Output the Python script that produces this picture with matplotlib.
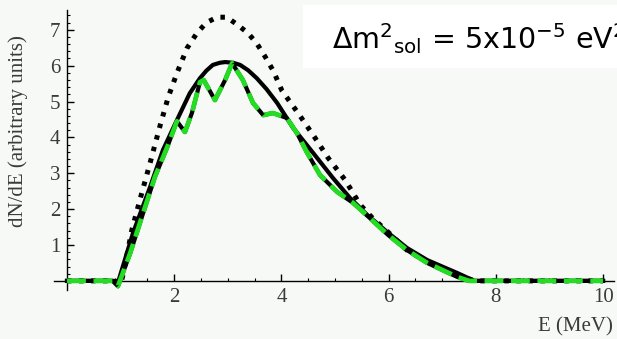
import numpy as np
import matplotlib.pyplot as plt
from matplotlib.patches import Rectangle
from matplotlib.ticker import FixedLocator

# Spectrum (E in MeV, dN/dE in arbitrary units)
E_noosc = [0, 0.9, 1.0, 1.05, 1.21, 1.36, 1.55, 1.74, 1.89, 2.05, 2.24, 2.42, 2.6, 2.8, 2.98,
           3.19, 3.38, 3.54, 3.7, 3.85, 4.01, 4.31, 4.63, 4.87, 5.19, 5.47, 5.7, 5.99, 6.34,
           6.72, 7.15, 7.6, 10]
y_noosc = [0, 0, -0.1, 0.2, 1.42, 2.26, 3.29, 4.35, 5.13, 5.79, 6.49, 6.9, 7.2, 7.35, 7.35,
           7.13, 6.9, 6.62, 6.24, 5.85, 5.3, 4.68, 3.98, 3.43, 2.81, 2.12, 1.75, 1.36, 0.86,
           0.53, 0.25, 0, 0]

E_avg = [0, 0.9, 0.95, 1.23, 1.55, 1.79, 2.05, 2.29, 2.48, 2.6, 2.72, 2.85, 2.95, 3.1,
         3.23, 3.38, 3.54, 3.72, 3.92, 4.22, 4.59, 4.96, 5.28, 5.6, 5.99, 6.34, 6.72, 7.28,
         7.6, 10]
y_avg = [0, 0, -0.05, 1.33, 2.62, 3.65, 4.48, 5.23, 5.65, 5.86, 6.02, 6.08, 6.1, 6.08,
         6.02, 5.87, 5.65, 5.35, 4.96, 4.26, 3.57, 2.87, 2.31, 1.84, 1.34, 0.92, 0.58, 0.22,
         0, 0]

E_osc = [0, 0.85, 0.95, 1.18, 1.42, 1.64, 1.87, 2.05, 2.2, 2.33, 2.48, 2.55, 2.76, 2.95,
         3.08, 3.28, 3.47, 3.66, 3.84, 4.1, 4.29, 4.48, 4.72, 5.04, 5.34, 5.65, 5.99, 6.34,
         6.72, 7.28, 7.5, 10]
y_osc = [0, 0, -0.15, 0.78, 1.89, 2.9, 3.73, 4.45, 4.15, 4.68, 5.54, 5.6, 5.04, 5.6,
         6.07, 5.6, 4.96, 4.62, 4.68, 4.54, 4.12, 3.57, 2.95, 2.48, 2.17, 1.75, 1.28, 0.86,
         0.5, 0.11, 0, 0]

x_ticks = [2, 4, 6, 8, 10]
y_ticks = [1, 2, 3, 4, 5, 6, 7]

bg = "#f7f9f7"
txt = "#3a3a3a"
fig = plt.figure(figsize=(6.17, 3.39), dpi=100, facecolor=bg)
ax = fig.add_axes([0, 0, 1, 1], facecolor=bg)
ax.set_xlim(-1.25, 10.26)
ax.set_ylim(-1.62, 7.83)

# curves
ax.plot(E_noosc, y_noosc, color="black", lw=3.6, ls=(0, (0.9, 1.5)), zorder=3)
ax.plot(E_avg, y_avg, color="black", lw=3.0, zorder=3)
ax.plot(E_osc, y_osc, color="black", lw=3.0, zorder=4)
ax.plot(E_osc, y_osc, color="#22dd22", lw=3.4, ls=(0, (4, 1.6)), zorder=5)

# Mathematica-like axes crossing at the origin
for s in ["top", "right"]:
    ax.spines[s].set_visible(False)
ax.spines["left"].set_position(("data", 0))
ax.spines["bottom"].set_position(("data", 0))
ax.spines["left"].set_bounds(-0.25, 7.55)
ax.spines["bottom"].set_bounds(-0.25, 10.2)
ax.spines["left"].set_linewidth(1.0)
ax.spines["bottom"].set_linewidth(1.0)

ax.set_xticks(x_ticks)
ax.set_yticks(y_ticks)
ax.xaxis.set_minor_locator(FixedLocator(np.arange(0.5, 10.01, 0.5)))
ax.yaxis.set_minor_locator(FixedLocator(np.arange(0.2, 7.45, 0.2)))
ax.tick_params(which="major", direction="in", length=5, width=1, pad=5,
               labelsize=15, labelcolor=txt)
ax.tick_params(which="minor", direction="in", length=2.5, width=0.8)
for lab in ax.get_xticklabels() + ax.get_yticklabels():
    lab.set_family("Liberation Serif")

fig.text(0.030, 0.613, "dN/dE (arbitrary units)", rotation=90, ha="center", va="center",
         family="Liberation Serif", fontsize=15, color=txt)
fig.text(0.993, 0.035, "E (MeV)", ha="right", va="center",
         family="Liberation Serif", fontsize=15, color=txt)

# white label box, cut off at the right edge like the original
fig.patches.append(Rectangle((0.491, 0.80), 0.52, 0.185, transform=fig.transFigure,
                             facecolor="white", edgecolor="none", zorder=6))
plt.rcParams["mathtext.default"] = "regular"
fig.text(0.538, 0.887, r"$\Delta$m$^2$$_{sol}$ = 5x10$^{-5}$ eV$^2$", ha="left", va="center",
         fontsize=20.5, family="DejaVu Sans", color="black", zorder=7)

fig.savefig("out.png", dpi=100, facecolor=bg)
